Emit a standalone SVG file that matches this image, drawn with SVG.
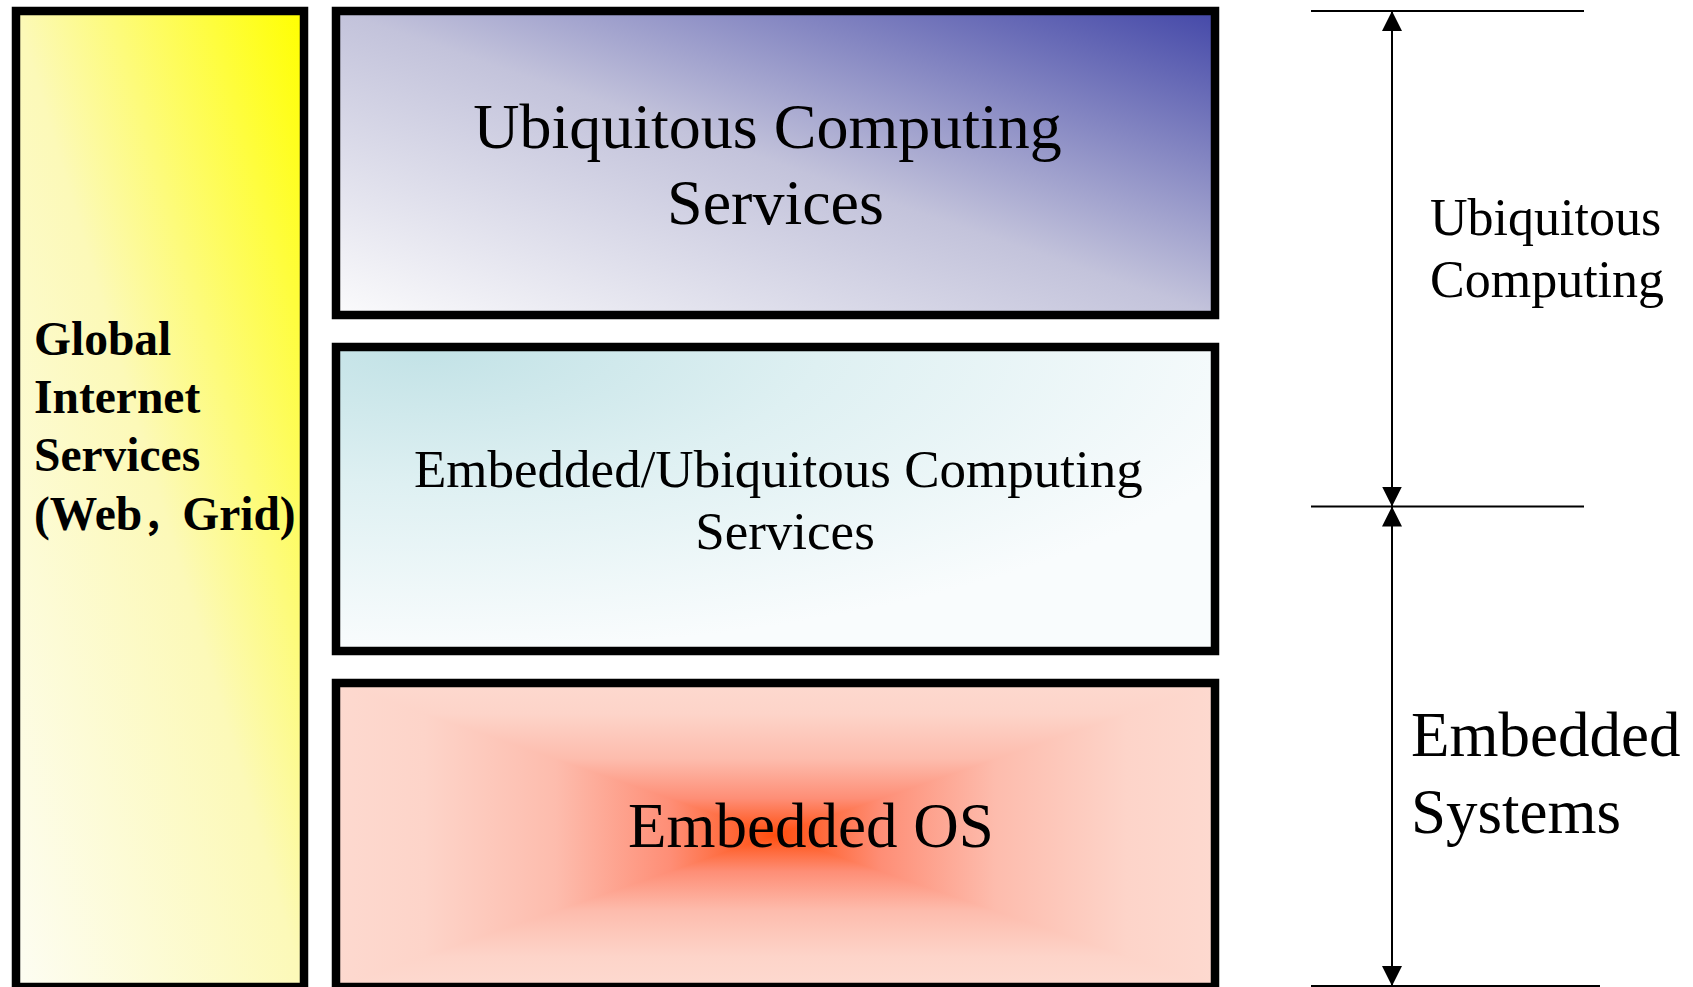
<svg xmlns="http://www.w3.org/2000/svg" width="1693" height="987" viewBox="0 0 1693 987">
  <style>
    .box { stroke: #000; stroke-width: 8.5; }
    .serif { font-family: "Liberation Serif", "Times New Roman", serif; fill: #000; }
    .label { font-family: "Liberation Serif", "Times New Roman", serif; fill: #000; }
    .dim { stroke: #000; stroke-width: 2; fill: none; }
  </style>
  <defs>
    <!-- yellow column: pale lower-left to bright upper-right -->
    <linearGradient id="gYellow" x1="0" y1="1" x2="1" y2="0">
      <stop offset="0" stop-color="#fdfdf3"/>
      <stop offset="0.5" stop-color="#fcf9b8"/>
      <stop offset="1" stop-color="#ffff00"/>
    </linearGradient>
    <!-- blue layer: white lower-left to deep blue upper-right -->
    <linearGradient id="gBlue" x1="0" y1="1" x2="1" y2="0">
      <stop offset="0" stop-color="#fbfbfc"/>
      <stop offset="0.5" stop-color="#c3c3db"/>
      <stop offset="1" stop-color="#4448a8"/>
    </linearGradient>
    <!-- teal layer: tint spreading from the upper-left -->
    <radialGradient id="gTeal" cx="0.1" cy="0" r="1" fx="0.1" fy="0">
      <stop offset="0" stop-color="#c2e2e6"/>
      <stop offset="0.45" stop-color="#def0f2"/>
      <stop offset="1" stop-color="#f9fcfd"/>
    </radialGradient>
    <!-- rectangular glow for the OS layer: vertical and horizontal halves -->
    <linearGradient id="gRedV" gradientUnits="userSpaceOnUse" x1="0" y1="683" x2="0" y2="987">
      <stop offset="0" stop-color="#fdd9cf"/>
      <stop offset="0.1" stop-color="#fdd4c9"/>
      <stop offset="0.25" stop-color="#fdbcad"/>
      <stop offset="0.38" stop-color="#fe8e76"/>
      <stop offset="0.5" stop-color="#ff4d0d"/>
      <stop offset="0.62" stop-color="#fe8e76"/>
      <stop offset="0.75" stop-color="#fdbcad"/>
      <stop offset="0.9" stop-color="#fdd4c9"/>
      <stop offset="1" stop-color="#fdd9cf"/>
    </linearGradient>
    <linearGradient id="gRedH" gradientUnits="userSpaceOnUse" x1="336" y1="0" x2="1215" y2="0">
      <stop offset="0" stop-color="#fdd9cf"/>
      <stop offset="0.1" stop-color="#fdd4c9"/>
      <stop offset="0.25" stop-color="#fdbcad"/>
      <stop offset="0.38" stop-color="#fe8e76"/>
      <stop offset="0.5" stop-color="#ff4d0d"/>
      <stop offset="0.62" stop-color="#fe8e76"/>
      <stop offset="0.75" stop-color="#fdbcad"/>
      <stop offset="0.9" stop-color="#fdd4c9"/>
      <stop offset="1" stop-color="#fdd9cf"/>
    </linearGradient>
    <marker id="arrow" viewBox="0 0 20 20" refX="20" refY="10" markerWidth="20" markerHeight="20" markerUnits="userSpaceOnUse" orient="auto-start-reverse">
      <path d="M0,0 L20,10 L0,20 z" fill="#000"/>
    </marker>
  </defs>

  <rect width="1693" height="987" fill="#fff"/>

  <!-- left column -->
  <g id="global-internet">
    <rect class="box" x="16" y="11" width="288" height="976" fill="url(#gYellow)"/>
    <text class="serif" font-size="47.5" font-weight="bold">
      <tspan x="34" y="355">Global</tspan>
      <tspan x="34" y="413">Internet</tspan>
      <tspan x="34" y="471">Services</tspan>
      <tspan x="34" y="530">(Web<tspan font-family="'Noto Sans CJK SC', sans-serif" font-size="40">，</tspan>Grid)</tspan>
    </text>
  </g>

  <!-- stacked layers -->
  <g id="ubiquitous-services">
    <rect class="box" x="336" y="11" width="879" height="304" fill="url(#gBlue)"/>
    <text class="serif" font-size="64" text-anchor="middle">
      <tspan x="775.5" y="148">Ubiquitous Computing</tspan>
      <tspan x="775.5" y="224">Services</tspan>
    </text>
  </g>

  <g id="embedded-ubiquitous-services">
    <rect class="box" x="336" y="347" width="879" height="304" fill="url(#gTeal)"/>
    <text class="serif" font-size="53" text-anchor="middle">
      <tspan x="785" y="487">Embedded/Ubiquitous Computing</tspan>
      <tspan x="785" y="549">Services</tspan>
    </text>
  </g>

  <g id="embedded-os">
    <rect x="336" y="683" width="879" height="304" fill="url(#gRedV)"/>
    <path d="M336,683 L775.5,835 L336,987 Z M1215,683 L775.5,835 L1215,987 Z" fill="url(#gRedH)"/>
    <rect class="box" x="336" y="683" width="879" height="304" fill="none"/>
    <text class="serif" x="628" y="847" font-size="63">Embedded OS</text>
  </g>

  <!-- range labels -->
  <g id="range-ubiquitous">
    <text class="label" font-size="52">
      <tspan x="1430" y="235">Ubiquitous</tspan>
      <tspan x="1430" y="297">Computing</tspan>
    </text>
  </g>
  <g id="range-embedded">
    <text class="label" font-size="63">
      <tspan x="1411" y="756">Embedded</tspan>
      <tspan x="1411" y="833">Systems</tspan>
    </text>
  </g>

  <!-- dimension lines -->
  <g id="connectors">
    <line class="dim" x1="1311" y1="11" x2="1584" y2="11"/>
    <line class="dim" x1="1311" y1="506.5" x2="1584" y2="506.5"/>
    <line class="dim" x1="1311" y1="986" x2="1600" y2="986"/>
    <line class="dim" x1="1392" y1="11" x2="1392" y2="506.5" marker-start="url(#arrow)" marker-end="url(#arrow)"/>
    <line class="dim" x1="1392" y1="506.5" x2="1392" y2="986" marker-start="url(#arrow)" marker-end="url(#arrow)"/>
  </g>
</svg>
